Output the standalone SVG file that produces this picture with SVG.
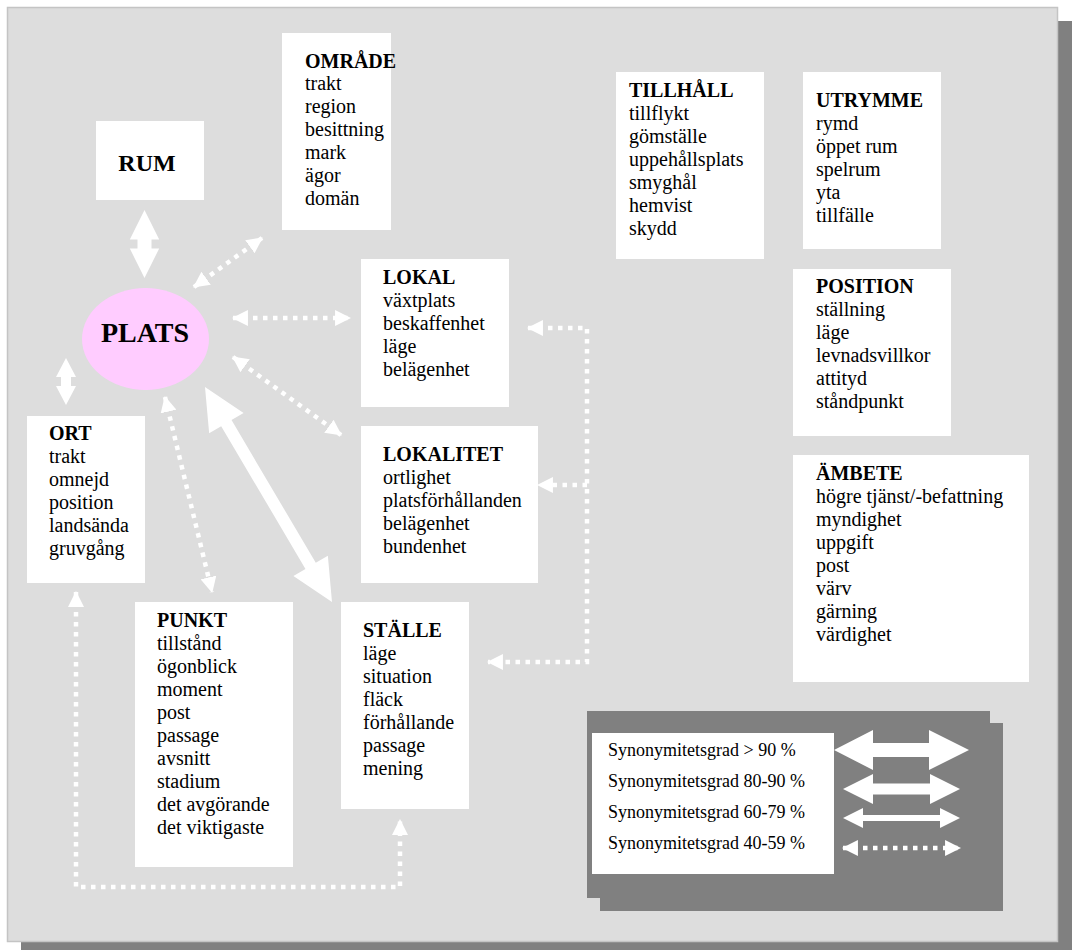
<svg xmlns="http://www.w3.org/2000/svg" width="1072" height="950" viewBox="0 0 1072 950">
<style>
.box{fill:#fff}
.t{font-family:"Liberation Serif","Times New Roman",serif;font-size:20px;fill:#000}
.h{font-weight:bold}
.lg{font-family:"Liberation Serif","Times New Roman",serif;font-size:18px;fill:#000}
.dot{fill:none;stroke:#fff;stroke-width:4.5;stroke-dasharray:4.5 5.5;marker-start:url(#dh);marker-end:url(#dh)}
.dot1{fill:none;stroke:#fff;stroke-width:4.5;stroke-dasharray:4.5 5.5;marker-end:url(#dh)}
.arw{fill:#fff}
.shadow{fill:#808080}
</style>
<defs>
<marker id="dh" markerUnits="userSpaceOnUse" markerWidth="16" markerHeight="16" viewBox="0 0 15 15" refX="14" refY="7.5" orient="auto-start-reverse">
<path d="M0,0 L15,7.5 L0,15 z" fill="#fff"/>
</marker>
</defs>
<rect width="1072" height="950" fill="#fff"/>
<rect class="shadow" x="21" y="21" width="1051" height="929"/>
<rect x="7.5" y="7.5" width="1050" height="934" fill="#ddd" stroke="#c4c4c4" stroke-width="1.5"/>

<g id="connectors">
<polygon class="arw" points="144.5,210 159.2,239.5 151.5,239.5 151.5,248.5 159.2,248.5 144.5,278 129.8,248.5 137.5,248.5 137.5,239.5 129.8,239.5"/>
<polygon class="arw" points="66,358 76,377 71,377 71,386 76,386 66,405 56,386 61,386 61,377 56,377"/>
<polygon class="arw" transform="translate(205,387) rotate(59.43)" points="0,0 42,-20 42,-6 207.7,-6 207.7,-20 249.7,0 207.7,20 207.7,6 42,6 42,20"/>
<path class="dot" d="M194,287 L262,238"/>
<path class="dot" d="M233,318 L350,318"/>
<path class="dot" d="M233,357 L341,435"/>
<path class="dot" d="M165,397 L212,592"/>
<path class="dot" d="M76,592 L76,887 L400,887 L400,820"/>
<path class="dot" d="M528,328 L587,328 L587,662 L488,662"/>
<path class="dot1" d="M587,485 L538,485"/>
</g>

<g id="rum">
<rect class="box" x="96" y="121" width="108" height="79"/>
<text class="t h" x="147" y="171" text-anchor="middle" style="font-size:24px">RUM</text>
</g>

<g id="plats">
<ellipse cx="145.5" cy="339" rx="63.5" ry="51" fill="#fcf"/>
<text class="t h" x="145" y="342" text-anchor="middle" style="font-size:28px">PLATS</text>
</g>

<g id="omrade">
<rect class="box" x="282" y="33" width="109" height="197"/>
<text class="t" x="305" y="68"><tspan class="h">OMRÅDE</tspan><tspan x="305" dy="22">trakt</tspan><tspan x="305" dy="23">region</tspan><tspan x="305" dy="23">besittning</tspan><tspan x="305" dy="23">mark</tspan><tspan x="305" dy="23">ägor</tspan><tspan x="305" dy="23">domän</tspan></text>
</g>

<g id="lokal">
<rect class="box" x="361" y="259" width="148" height="148"/>
<text class="t" x="383" y="284"><tspan class="h">LOKAL</tspan><tspan x="383" dy="23">växtplats</tspan><tspan x="383" dy="23">beskaffenhet</tspan><tspan x="383" dy="23">läge</tspan><tspan x="383" dy="23">belägenhet</tspan></text>
</g>

<g id="lokalitet">
<rect class="box" x="361" y="426" width="177" height="157"/>
<text class="t" x="383" y="461"><tspan class="h">LOKALITET</tspan><tspan x="383" dy="23">ortlighet</tspan><tspan x="383" dy="23">platsförhållanden</tspan><tspan x="383" dy="23">belägenhet</tspan><tspan x="383" dy="23">bundenhet</tspan></text>
</g>

<g id="stalle">
<rect class="box" x="341" y="602" width="128" height="207"/>
<text class="t" x="363" y="637"><tspan class="h">STÄLLE</tspan><tspan x="363" dy="23">läge</tspan><tspan x="363" dy="23">situation</tspan><tspan x="363" dy="23">fläck</tspan><tspan x="363" dy="23">förhållande</tspan><tspan x="363" dy="23">passage</tspan><tspan x="363" dy="23">mening</tspan></text>
</g>

<g id="punkt">
<rect class="box" x="135" y="602" width="158" height="265"/>
<text class="t" x="157" y="627"><tspan class="h">PUNKT</tspan><tspan x="157" dy="23">tillstånd</tspan><tspan x="157" dy="23">ögonblick</tspan><tspan x="157" dy="23">moment</tspan><tspan x="157" dy="23">post</tspan><tspan x="157" dy="23">passage</tspan><tspan x="157" dy="23">avsnitt</tspan><tspan x="157" dy="23">stadium</tspan><tspan x="157" dy="23">det avgörande</tspan><tspan x="157" dy="23">det viktigaste</tspan></text>
</g>

<g id="ort">
<rect class="box" x="27" y="416" width="118" height="167"/>
<text class="t" x="49" y="440"><tspan class="h">ORT</tspan><tspan x="49" dy="23">trakt</tspan><tspan x="49" dy="23">omnejd</tspan><tspan x="49" dy="23">position</tspan><tspan x="49" dy="23">landsända</tspan><tspan x="49" dy="23">gruvgång</tspan></text>
</g>

<g id="tillhall">
<rect class="box" x="616" y="72" width="148" height="187"/>
<text class="t" x="629" y="97"><tspan class="h">TILLHÅLL</tspan><tspan x="629" dy="23">tillflykt</tspan><tspan x="629" dy="23">gömställe</tspan><tspan x="629" dy="23">uppehållsplats</tspan><tspan x="629" dy="23">smyghål</tspan><tspan x="629" dy="23">hemvist</tspan><tspan x="629" dy="23">skydd</tspan></text>
</g>

<g id="utrymme">
<rect class="box" x="803" y="72" width="138" height="177"/>
<text class="t" x="816" y="107"><tspan class="h">UTRYMME</tspan><tspan x="816" dy="23">rymd</tspan><tspan x="816" dy="23">öppet rum</tspan><tspan x="816" dy="23">spelrum</tspan><tspan x="816" dy="23">yta</tspan><tspan x="816" dy="23">tillfälle</tspan></text>
</g>

<g id="position">
<rect class="box" x="793" y="269" width="158" height="167"/>
<text class="t" x="816" y="293"><tspan class="h">POSITION</tspan><tspan x="816" dy="23">ställning</tspan><tspan x="816" dy="23">läge</tspan><tspan x="816" dy="23">levnadsvillkor</tspan><tspan x="816" dy="23">attityd</tspan><tspan x="816" dy="23">ståndpunkt</tspan></text>
</g>

<g id="ambete">
<rect class="box" x="793" y="455" width="236" height="227"/>
<text class="t" x="816" y="480"><tspan class="h">ÄMBETE</tspan><tspan x="816" dy="23">högre tjänst/-befattning</tspan><tspan x="816" dy="23">myndighet</tspan><tspan x="816" dy="23">uppgift</tspan><tspan x="816" dy="23">post</tspan><tspan x="816" dy="23">värv</tspan><tspan x="816" dy="23">gärning</tspan><tspan x="816" dy="23">värdighet</tspan></text>
</g>

<g id="legend">
<rect class="shadow" x="600" y="723" width="403" height="188"/>
<rect class="shadow" x="587" y="711" width="403" height="187"/>
<rect class="box" x="592" y="733" width="242" height="141"/>
<text class="lg" x="608" y="756">Synonymitetsgrad &gt; 90 %</text>
<text class="lg" x="608" y="787">Synonymitetsgrad 80-90 %</text>
<text class="lg" x="608" y="818">Synonymitetsgrad 60-79 %</text>
<text class="lg" x="608" y="849">Synonymitetsgrad 40-59 %</text>
<polygon class="arw" points="834,750 873,730 873,743 929,743 929,730 969,750 929,770 929,757 873,757 873,770"/>
<polygon class="arw" points="843,789 873,774 873,783.5 930,783.5 930,774 960,789 930,804 930,794.5 873,794.5 873,804"/>
<polygon class="arw" points="843,818 863,808 863,815 940,815 940,808 960,818 940,828 940,821 863,821 863,828"/>
<path class="dot" d="M843,848 L960,848"/>
</g>
</svg>
